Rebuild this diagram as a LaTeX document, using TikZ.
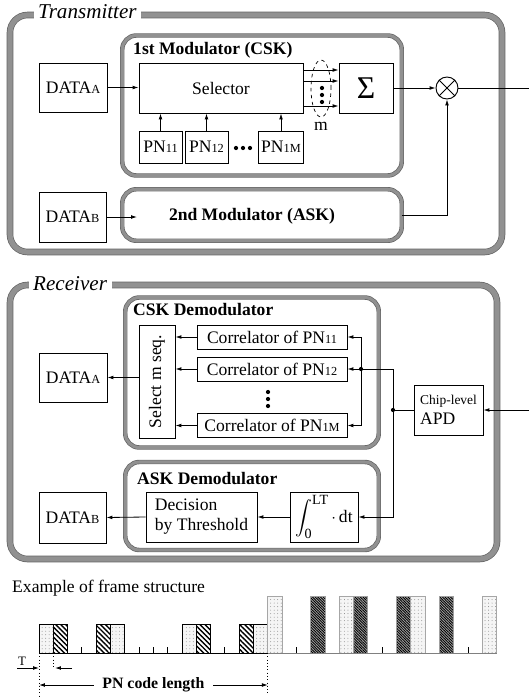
\documentclass[tikz,border=0pt]{standalone}
\usepackage{fontspec}
\setmainfont{Liberation Serif}
\usepackage{exscale}
\usetikzlibrary{shapes.geometric, arrows.meta, positioning, patterns.meta}
\definecolor{bandgray}{RGB}{145,145,145}
\definecolor{bandedge}{RGB}{100,100,100}
\newcommand{\txtsz}{\fontsize{15}{17}\selectfont}
\newcommand{\lowsz}[1]{{\fontsize{10.5}{11}\selectfont #1}}

\tikzset{
  blk/.style={draw, line width=0.8pt, font=\txtsz, inner sep=2pt},
  outerbox/.style={draw=bandedge, double=bandgray, double distance=4.4pt, line width=0.6pt, rounded corners=15pt},
  grpbox/.style={draw=bandedge, double=bandgray, double distance=2.6pt, line width=0.6pt, rounded corners=12pt},
  outtitle/.style={font=\itshape\fontsize{18}{20}\selectfont, fill=white, inner sep=4pt, anchor=base west},
  grptitle/.style={font=\bfseries\fontsize{15}{17}\selectfont, inner sep=0pt, anchor=base west},
  arr/.style={-{Latex[length=5pt,width=3.2pt]}, line width=0.7pt},
  dblarr/.style={{Latex[length=5pt,width=3.2pt]}-{Latex[length=5pt,width=3.2pt]}, line width=0.7pt},
  wire/.style={line width=0.7pt},
  dotmark/.style={circle, fill, inner sep=0pt, minimum size=3.6pt},
  dotbar/.style={draw, line width=0.8pt, preaction={fill=gray!8}, pattern={Dots[distance=3pt,radius=0.4pt]}, pattern color=gray},
  tdotbar/.style={dotbar, draw=gray!70},
  hatchbar/.style={draw, line width=0.8pt, pattern={Lines[angle=-45,distance=3pt,line width=1.2pt]}},
  darkbar/.style={draw=gray!75, line width=0.8pt, preaction={fill=gray!70}, pattern={Lines[angle=-45,distance=1.6pt,line width=0.75pt]}, pattern color=black}
}

\begin{document}
\begin{tikzpicture}[x=0.03cm, y=-0.03cm]
    \useasboundingbox (0,0) rectangle (529,698);

    % Transmitter
    \node[outerbox, minimum width=14.76cm, minimum height=7.11cm] (tx) at (256,133.5) {};
    \node[outtitle] (txtitle) at (33.3,18) {Transmitter};
    \node[grpbox, minimum width=8.385cm, minimum height=4.2cm] (mod1) at (262,105.5) {};
    \node[grptitle] (mod1t) at (133,54) {1st Modulator (CSK)};
    \node[grpbox, minimum width=8.385cm, minimum height=1.545cm] (mod2) at (262,215) {};
    \node[grptitle, anchor=center] (mod2t) at (252,216) {2nd Modulator (ASK)};

    \node[blk, minimum width=2.04cm, minimum height=1.47cm] (dataA) at (73,87.5) {DATA\lowsz{A}};
    \node[blk, minimum width=2.01cm, minimum height=1.5cm] (dataB) at (72.5,217) {DATA\lowsz{B}};
    \node[blk, minimum width=4.92cm, minimum height=1.5cm] (sel) at (221,88) {Selector};
    \node[blk, minimum width=1.29cm, minimum height=0.96cm] (pn11) at (160.5,147) {PN\lowsz{11}};
    \node[blk, minimum width=1.29cm, minimum height=0.96cm] (pn12) at (206.5,147) {PN\lowsz{12}};
    \node[blk, minimum width=1.32cm, minimum height=0.96cm] (pn1m) at (281,147) {PN\lowsz{1M}};
    \foreach \i/\xx in {1/236,2/243,3/250} {
        \node[dotmark] (pnd\i) at (\xx,148) {};
    }
    \node[blk, minimum width=1.62cm, minimum height=1.5cm, font=\fontsize{27}{27}\selectfont] (sig) at (366,88) {Σ};
    \node[ellipse, draw, dashed, line width=0.6pt, minimum width=0.6cm, minimum height=1.71cm, inner sep=0pt] (mgrp) at (321,88.5) {};
    \node[font=\txtsz, inner sep=1pt, below=3pt of mgrp] (mlbl) {m};
    \foreach \i/\yy in {1/88,2/95,3/102} {
        \node[dotmark] (md\i) at (322,\yy) {};
    }
    \node[circle, draw, line width=0.8pt, minimum size=0.66cm, inner sep=0pt] (mul) at (447,88) {};
    \draw[line width=0.8pt] (mul.north west) -- (mul.south east) (mul.north east) -- (mul.south west);
    \coordinate (m2in) at (137,217);
    \coordinate (txout) at (529,88);

    \draw[arr] (dataA.east) -- (dataA.east -| sel.west);
    \draw[arr] (dataB.east) -- (m2in);
    \foreach \p in {pn11,pn12,pn1m} {
        \draw[arr] (\p.north) -- (\p.north |- sel.south);
    }
    \foreach \i/\yy in {1/70,2/81,3/106} {
        \coordinate (so\i) at (0,\yy);
        \draw[arr] (sel.east |- so\i) -- (sig.west |- so\i);
    }
    \draw[arr] (sig.east) -- (mul.west);
    \draw[wire] (mul.east) -- (txout);
    \draw[arr] (mod2.east) -| (mul.south);

    % Receiver
    \node[outerbox, minimum width=14.61cm, minimum height=8.22cm] (rx) at (253.5,422) {};
    \node[outtitle] (rxtitle) at (28.3,290) {Receiver};
    \node[grpbox, minimum width=7.605cm, minimum height=4.5cm] (csk) at (252,372.5) {};
    \node[grptitle] (cskt) at (133,315) {CSK Demodulator};
    \node[grpbox, minimum width=7.605cm, minimum height=2.64cm] (ask) at (252,506) {};
    \node[grptitle] (askt) at (137,484) {ASK Demodulator};

    \node[blk, minimum width=1.08cm, minimum height=3.39cm] (msel) at (157,381.5) {\rotatebox{90}{Select m seq.}};
    \foreach \n/\yy/\s in {1/337/11, 2/369/12, 3/425.5/1M} {
        \node[blk, minimum width=4.5cm, minimum height=0.72cm] (cor\n) at (272,\yy) {Correlator of PN\lowsz{\s}};
    }
    \foreach \i/\yy in {1/392,2/399,3/406} {
        \node[dotmark] (cd\i) at (268,\yy) {};
    }
    \node[blk, align=left, minimum width=2.07cm, minimum height=1.5cm] (apd) at (448.5,410) {{\fontsize{11.5}{13}\selectfont Chip-level}\\APD};
    \node[dotmark] (j1) at (361,369) {};
    \node[dotmark] (j2) at (393,410) {};
    \node[blk, minimum width=2.04cm, minimum height=1.47cm] (dataAr) at (73,377.5) {DATA\lowsz{A}};
    \node[blk, align=left, minimum width=3.33cm, minimum height=1.5cm] (dec) at (201.5,517) {Decision\\by Threshold};
    \node[blk, minimum width=2.04cm, minimum height=1.5cm] (intg) at (324,517)
        {$\displaystyle\int_{\mbox{\fontsize{12}{12}\selectfont 0}}^{\mbox{\fontsize{12}{12}\selectfont LT}}\cdot\,$dt};
    \node[blk, minimum width=2.01cm, minimum height=1.53cm] (dataBr) at (72.5,517.5) {DATA\lowsz{B}};
    \coordinate (rxin) at (529,410);

    \draw[arr] (rxin) -- (apd.east);
    \draw[wire] (apd.west) -- (j2);
    \draw[wire] (j2) |- (j1);
    \draw[arr] (j1) -- (cor2.east);
    \draw[arr] (j1) |- (cor1.east);
    \draw[arr] (j1) |- (cor3.east);
    \draw[arr] (j2) |- (intg.east);
    \foreach \n in {1,2,3} {
        \draw[arr] (cor\n.west) -- (cor\n.west -| msel.east);
    }
    \draw[arr] (msel.west |- dataAr.east) -- (dataAr.east);
    \draw[arr] (intg.west) -- (dec.east);
    \draw[arr] (dec.west) -- (dataBr.east);

    % Frame structure
    \node[font=\txtsz, inner sep=0pt, anchor=base west] (frtitle) at (12,592) {Example of frame structure};
    \foreach \k/\sty in {0/dotbar,1/hatchbar,4/hatchbar,5/dotbar,10/dotbar,11/hatchbar,14/hatchbar,15/dotbar} {
        \draw[\sty] ({39+14.3*\k},653) rectangle ({39+14.3*(\k+1)},624);
    }
    \foreach \k/\sty in {16/tdotbar,19/darkbar,21/tdotbar,22/darkbar,25/darkbar,26/tdotbar,28/darkbar,31/tdotbar} {
        \draw[\sty] ({39+14.3*\k},653) rectangle ({39+14.3*(\k+1)},596);
    }
    \foreach \k in {3,7,8,9,13,18,24,30} {
        \draw[line width=0.7pt] ({39+14.3*\k},653) -- ++(0,-6);
    }
    \coordinate (f0) at (39,653);
    \coordinate (f1) at (53.3,653);
    \coordinate (f16) at (267.8,653);
    \coordinate (fend) at (496.6,653);
    \draw[line width=0.8pt] (f0) -- (f16);
    \draw[line width=0.8pt, gray] (f16) -- (fend);

    \coordinate (f0b) at (39,698);
    \coordinate (tl) at (17,668);
    \coordinate (tr) at (72,668);
    \coordinate (pnl) at (39,685);
    \coordinate (pnr) at (267.8,685);
    \draw[dotted, line width=0.8pt] (f0) -- (f0b);
    \draw[dotted, line width=0.8pt] (f1) -- (f1 |- tr);
    \draw[dotted, line width=0.8pt] (f16) -- (f16 |- 0,693);
    \draw[arr] (tl) -- (tl -| f0);
    \draw[arr, shorten >=1.5pt] (tr) -- (tr -| f1);
    \node[font=\fontsize{11}{12}\selectfont, inner sep=0pt] (tlbl) at (22,661) {T};
    \draw[dblarr] (pnl) -- node[fill=white, font=\bfseries\fontsize{13.5}{15}\selectfont, inner xsep=7pt] (pnlen) {PN code length} (pnr);
\end{tikzpicture}
\end{document}
